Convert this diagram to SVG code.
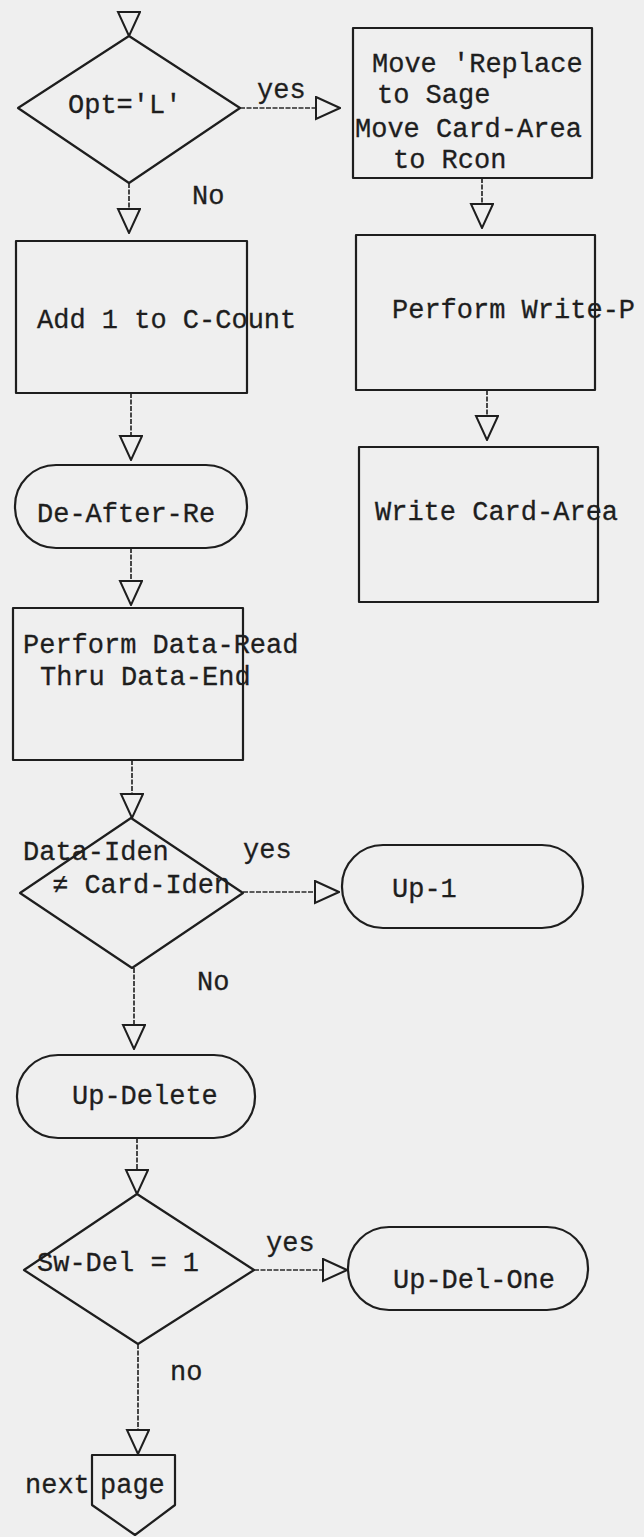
<svg xmlns="http://www.w3.org/2000/svg" width="644" height="1537" viewBox="0 0 644 1537">
<style>
.bg{fill:#efefef}
.sh{fill:none;stroke:#1e1e1e;stroke-width:2.2;stroke-linejoin:round}
.t{font-family:"Liberation Mono","DejaVu Sans Mono",monospace;font-size:27px;fill:#1e1e1e;stroke:#1e1e1e;stroke-width:0.3}
.c{fill:none;stroke:#2a2a2a;stroke-width:1.7;stroke-dasharray:5 1.5;marker-end:url(#tri)}
</style>
<defs>
<marker id="tri" markerUnits="userSpaceOnUse" markerWidth="26" markerHeight="26" viewBox="-1 -1 26 26" refX="24" refY="11" orient="auto">
<path d="M0,0 L24,11 L0,22 Z" fill="#efefef" stroke="#1e1e1e" stroke-width="2"/>
</marker>
</defs>
<rect class="bg" x="0" y="0" width="644" height="1537"/>
<g id="connectors">
<path class="c" d="M129,13 L129,36"/>
<path class="c" d="M240,108 L340,108"/>
<path class="c" d="M129,183 L129,233"/>
<path class="c" d="M482,178 L482,228"/>
<path class="c" d="M487,390 L487,440"/>
<path class="c" d="M131,393 L131,460"/>
<path class="c" d="M131,548 L131,605"/>
<path class="c" d="M132,760 L132,818"/>
<path class="c" d="M243,892 L339,892"/>
<path class="c" d="M134,968 L134,1049"/>
<path class="c" d="M137,1138 L137,1194"/>
<path class="c" d="M254,1270 L347,1270"/>
<path class="c" d="M138,1344 L138,1454"/>
<text class="t" x="257" y="98">yes</text>
<text class="t" x="192" y="204">No</text>
<text class="t" x="243" y="858">yes</text>
<text class="t" x="197" y="990">No</text>
<text class="t" x="266" y="1251">yes</text>
<text class="t" x="170" y="1380">no</text>
</g>
<g id="dec-opt">
<polygon class="sh" points="129,36 240,108 129,183 18,108"/>
<text class="t" x="68" y="113">Opt='L'</text>
</g>
<g id="box-move">
<rect class="sh" x="353" y="28" width="239" height="150"/>
<text class="t" x="372" y="72">Move 'Replace</text>
<text class="t" x="377" y="103">to Sage</text>
<text class="t" x="355" y="137">Move Card-Area</text>
<text class="t" x="393" y="168">to Rcon</text>
</g>
<g id="box-perform-write">
<rect class="sh" x="356" y="235" width="239" height="155"/>
<text class="t" x="392" y="318">Perform Write-P</text>
</g>
<g id="box-write-card">
<rect class="sh" x="359" y="447" width="239" height="155"/>
<text class="t" x="375" y="520">Write Card-Area</text>
</g>
<g id="box-add">
<rect class="sh" x="16" y="241" width="231" height="152"/>
<text class="t" x="37" y="328">Add 1 to C-Count</text>
</g>
<g id="term-de-after">
<rect class="sh" x="15" y="465" width="232" height="83" rx="41" ry="41"/>
<text class="t" x="37" y="522">De-After-Re</text>
</g>
<g id="box-perform-data">
<rect class="sh" x="13" y="608" width="230" height="152"/>
<text class="t" x="23" y="653">Perform Data-Read</text>
<text class="t" x="40" y="685">Thru Data-End</text>
</g>
<g id="dec-iden">
<polygon class="sh" points="131,818 243,893 132,968 20,893"/>
<text class="t" x="23" y="860">Data-Iden</text>
<text class="t" x="52" y="893">≠ Card-Iden</text>
</g>
<g id="term-up1">
<rect class="sh" x="342" y="845" width="241" height="83" rx="41" ry="41"/>
<text class="t" x="392" y="897">Up-1</text>
</g>
<g id="term-up-delete">
<rect class="sh" x="17" y="1055" width="238" height="83" rx="41" ry="41"/>
<text class="t" x="72" y="1104">Up-Delete</text>
</g>
<g id="dec-swdel">
<polygon class="sh" points="137,1194 254,1270 138,1344 24,1270"/>
<text class="t" x="37" y="1271">Sw-Del = 1</text>
</g>
<g id="term-up-del-one">
<rect class="sh" x="348" y="1227" width="240" height="83" rx="41" ry="41"/>
<text class="t" x="393" y="1288">Up-Del-One</text>
</g>
<g id="offpage">
<polygon class="sh" points="92,1455 175,1455 175,1505 135,1535 92,1505"/>
<text class="t" x="25" y="1493">next</text>
<text class="t" x="100" y="1493">page</text>
</g>
</svg>
